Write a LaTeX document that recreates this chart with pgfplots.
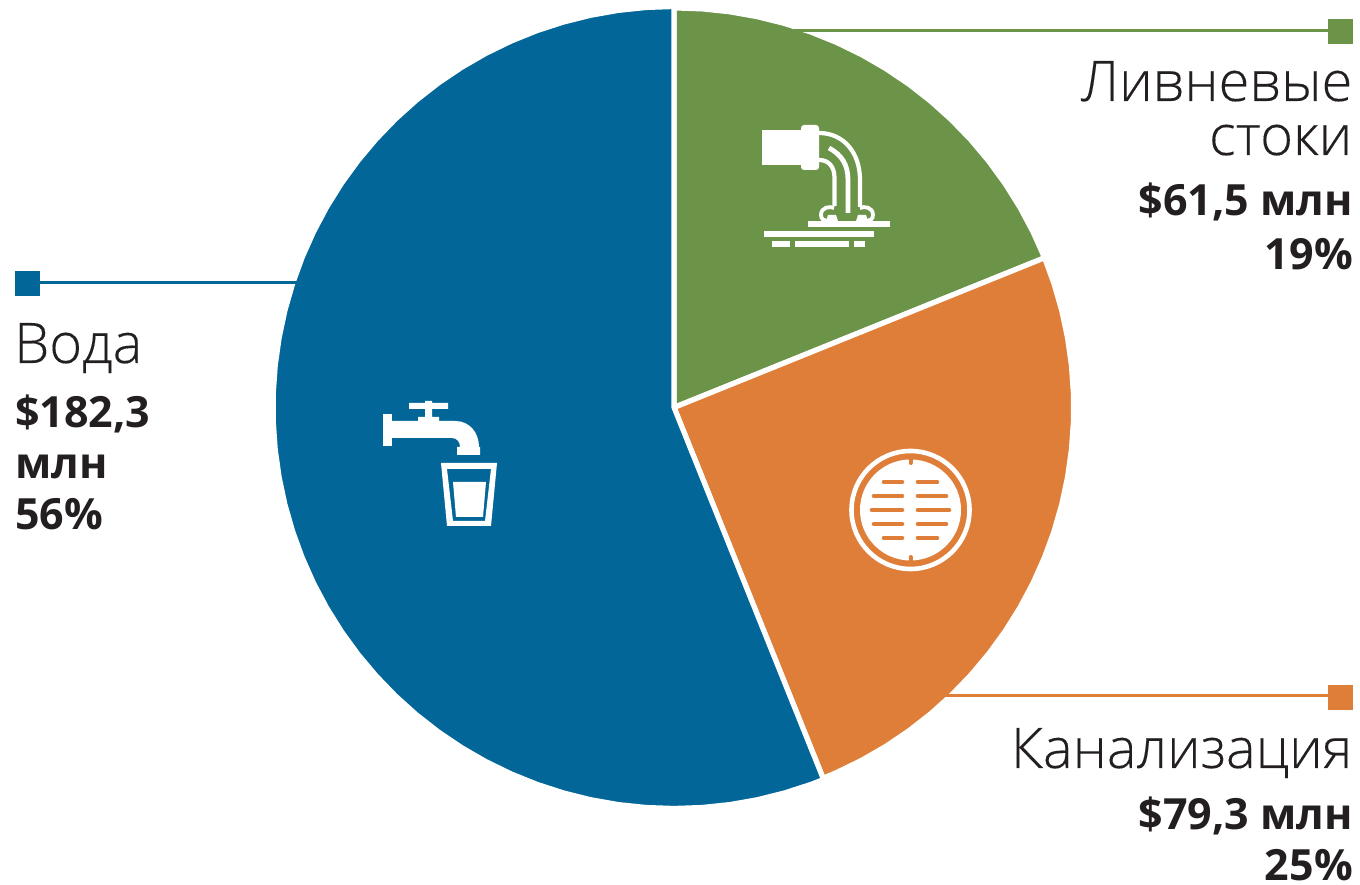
\documentclass[border=0pt]{standalone}
\usepackage{fontspec}
\setmainfont{Open Sans}
\newfontfamily\lightf[FakeBold=0.2]{Open Sans Light}
\usepackage{pgfplots}
\pgfplotsset{compat=1.18}
\definecolor{cgreen}{HTML}{6C9448}
\definecolor{corange}{HTML}{DF7E38}
\definecolor{cblue}{HTML}{026699}
\definecolor{ctext}{HTML}{231F20}
\begin{document}
\begin{tikzpicture}
\useasboundingbox (0,0) rectangle (1360pt,885pt);
\begin{axis}[at={(0,0)},anchor=south west,scale only axis,width=1360pt,height=885pt,
  xmin=-674,xmax=686,ymin=-477.5,ymax=407.5,hide axis,clip=false]
% Ливневые стоки 19%
\addplot[data cs=polar,fill=cgreen,draw=white,line width=5.2pt,line join=round,mark=none] coordinates {(0,0)
(90,399.6)(86,399.6)(82,399.6)(78,399.6)(74,399.6)(70,399.6)(66,399.6)(62,399.6)(58,399.6)(54,399.6)(50,399.6)(46,399.6)(42,399.6)(38,399.6)(34,399.6)(30,399.6)(26,399.6)(22,399.6)} --cycle;
% Канализация 25%
\addplot[data cs=polar,fill=corange,draw=white,line width=5.2pt,line join=round,mark=none] coordinates {(0,0)
(22,399.6)(18,399.6)(14,399.6)(10,399.6)(6,399.6)(2,399.6)(-2,399.6)(-6,399.6)(-10,399.6)(-14,399.6)(-18,399.6)(-22,399.6)(-26,399.6)(-30,399.6)(-34,399.6)(-38,399.6)(-42,399.6)(-46,399.6)(-50,399.6)(-54,399.6)(-58,399.6)(-62,399.6)(-66,399.6)(-68.1,399.6)} --cycle;
% Вода 56%
\addplot[data cs=polar,fill=cblue,draw=white,line width=5.2pt,line join=round,mark=none] coordinates {(0,0)
(90,401)(94,401)(98,401)(102,401)(106,401)(110,401)(114,401)(118,401)(122,401)(126,401)(130,401)(134,401)(138,401)(142,401)(146,401)(150,401)(154,401)(158,401)(162,401)(166,401)(170,401)(174,401)(178,401)(182,401)(186,401)(190,401)(194,401)(198,401)(202,401)(206,401)(210,401)(214,401)(218,401)(222,401)(226,401)(230,401)(234,401)(238,401)(242,401)(246,401)(250,401)(254,401)(258,401)(262,401)(266,401)(270,401)(274,401)(278,401)(282,401)(286,401)(290,401)(291.9,401)} --cycle;
% leader lines with their end squares (x = px-674, y = 407.5-py)
\addplot[cgreen,line width=3pt,mark=none] coordinates {(120,377) (666,377)};
\addplot[corange,line width=3pt,mark=none] coordinates {(265,-288.5) (666,-288.5)};
\addplot[cblue,line width=3pt,mark=none] coordinates {(-370,124.5) (-647,124.5)};
\addplot[only marks,mark=square*,mark size=12pt,mark options={cgreen,draw=none}] coordinates {(666,376.5)};
\addplot[only marks,mark=square*,mark size=12pt,mark options={corange,draw=none}] coordinates {(666,-289.5)};
\addplot[only marks,mark=square*,mark size=12pt,mark options={cblue,draw=none}] coordinates {(-647,124.5)};
\end{axis}
% everything below in reference pixel coordinates
\begin{scope}[yshift=885pt,x=1pt,y=-1pt]
% labels
\node[anchor=base east,inner sep=0,text=ctext,font=\lightf\fontsize{56}{56}\selectfont] at (1352.5,101) {Ливневые};
\node[anchor=base east,inner sep=0,text=ctext,font=\lightf\fontsize{56}{56}\selectfont] at (1352.5,155) {стоки};
\node[anchor=base east,inner sep=0,text=ctext,font=\bfseries\fontsize{43}{43}\selectfont] at (1353,216) {\$61,5 млн};
\node[anchor=base east,inner sep=0,text=ctext,font=\bfseries\fontsize{43}{43}\selectfont] at (1353,270) {19\%};
\node[anchor=base east,inner sep=0,text=ctext,font=\lightf\fontsize{56}{56}\selectfont] at (1352.5,768) {Канализация};
\node[anchor=base east,inner sep=0,text=ctext,font=\bfseries\fontsize{43}{43}\selectfont] at (1353,830) {\$79,3 млн};
\node[anchor=base east,inner sep=0,text=ctext,font=\bfseries\fontsize{43}{43}\selectfont] at (1353,881) {25\%};
\node[anchor=base west,inner sep=0,text=ctext,font=\lightf\fontsize{56}{56}\selectfont] at (14,363) {Вода};
\node[anchor=base west,inner sep=0,text=ctext,font=\bfseries\fontsize{43}{43}\selectfont] at (15,428) {\$182,3};
\node[anchor=base west,inner sep=0,text=ctext,font=\bfseries\fontsize{43}{43}\selectfont] at (15,479) {млн};
\node[anchor=base west,inner sep=0,text=ctext,font=\bfseries\fontsize{43}{43}\selectfont] at (15,530) {56\%};
% pipe icon
\fill[white] (762,130) rectangle (802,165);
\fill[white,rounded corners=3pt] (801,125) rectangle (819,170);
\draw[white,line width=4.2pt] (819,133) .. controls (843,133) and (860,152) .. (860,180) -- (860,207);
\draw[white,line width=4.8pt] (829,148) .. controls (842,155) and (848,165) .. (848,180) -- (848,213);
\draw[white,line width=4.2pt] (819,160) .. controls (829,160) and (834.5,167) .. (834.5,178) -- (834.5,206);
\draw[white,line width=3.8pt] (834,208) .. controls (830,206) and (821,207) .. (821,215) .. controls (821,219) and (824,221) .. (827,221);
\draw[white,line width=3.8pt] (860,208) .. controls (864,206) and (873,207) .. (873,215) .. controls (873,219) and (870,221) .. (867,221);
\fill[white] (836,215) -- (828,215) -- (826,221) -- (838,221) -- cycle;
\fill[white] (858,215) -- (866,215) -- (868,221) -- (856,221) -- cycle;
\fill[white] (808,221) rectangle (890,227);
\fill[white] (764,231) rectangle (874,237);
\fill[white] (772,241) rectangle (790,247);
\fill[white] (795,241) rectangle (849,247);
\fill[white] (854,241) rectangle (865,247);
% tap icon
\fill[white] (383,414) rectangle (392,446);
\fill[white] (392,421) -- (418,421) -- (418,417) -- (425,417) -- (425,409) -- (409,409) -- (409,403) -- (425,403) -- (425,401) -- (432,401) -- (432,403) -- (448,403) -- (448,409) -- (432,409) -- (432,417) -- (439,417) -- (439,421) -- (455,421) .. controls (470,421) and (479,433) .. (479,447) -- (480,447) -- (480,455) -- (457,455) -- (457,447) -- (460,447) .. controls (460,442) and (457,438) .. (452,438) -- (392,438) -- cycle;
\fill[white,even odd rule] (441,463) -- (497,463) -- (491,526) -- (447,526) -- cycle (447,469) -- (491,469) -- (485,521) -- (453,521) -- cycle;
\fill[white] (453,482) -- (486,482) -- (483,517) -- (456,517) -- cycle;
% manhole icon
\draw[white,line width=4.6pt] (910.5,510) circle[radius=59];
\fill[white] (910.5,510) circle[radius=50.5];
\begin{scope}[corange,line width=4.6pt,line cap=round]
\draw (884,482) -- (902,482); \draw (918,482) -- (937,482);
\draw (874,496) -- (902,496); \draw (918,496) -- (946,496);
\draw (872,510) -- (902,510); \draw (918,510) -- (949,510);
\draw (874,524) -- (902,524); \draw (918,524) -- (946,524);
\draw (884,538) -- (902,538); \draw (918,538) -- (937,538);
\draw[line width=4pt] (910.5,458) -- (910.5,463);
\draw[line width=4pt] (910.5,557) -- (910.5,562);
\end{scope}
\end{scope}
\end{tikzpicture}
\end{document}
